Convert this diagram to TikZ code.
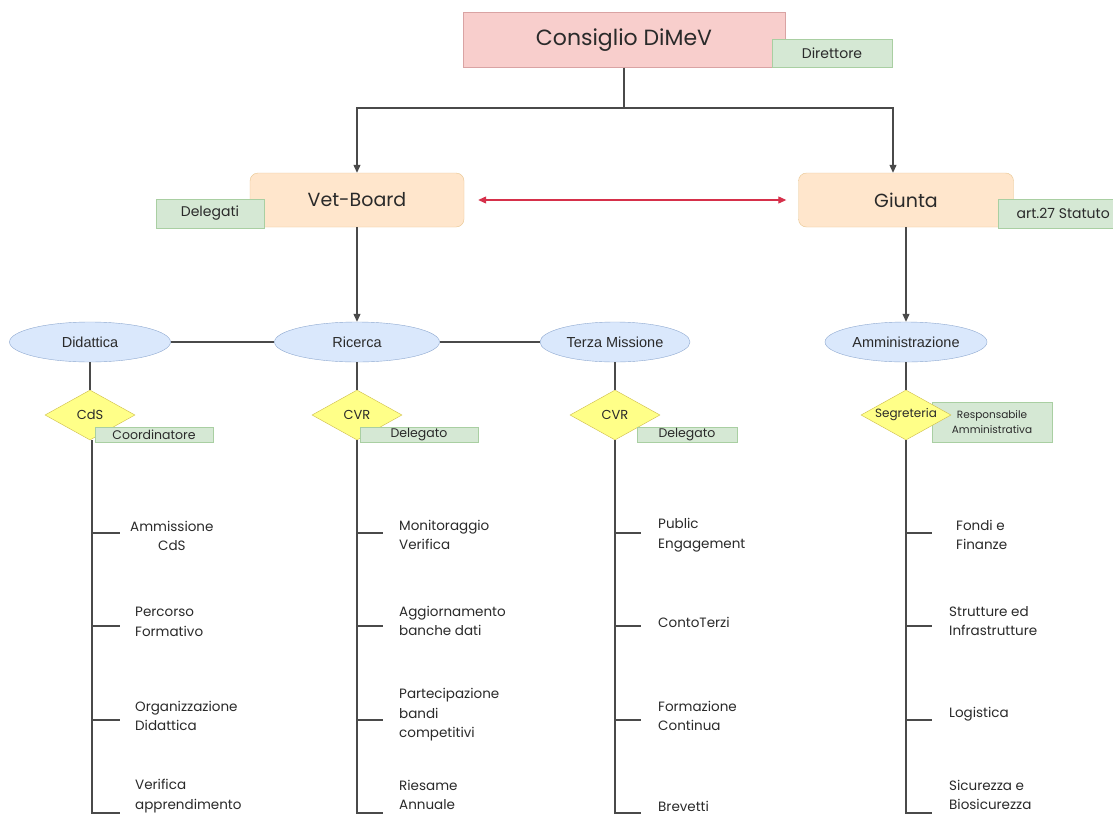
\documentclass[tikz,border=0pt]{standalone}
\usepackage{fontspec}
\setmainfont{Poppins}
\newfontfamily\arialfont{Liberation Sans}
\usetikzlibrary{shapes.geometric,arrows.meta}

\definecolor{pinkfill}{HTML}{F8CECC}
\definecolor{pinkline}{HTML}{D9A3A3}
\definecolor{greenfill}{HTML}{D5E8D4}
\definecolor{greenline}{HTML}{A9CFA2}
\definecolor{orangefill}{HTML}{FFE6CC}
\definecolor{orangeline}{HTML}{E8C690}
\definecolor{bluefill}{HTML}{DAE8FC}
\definecolor{blueline}{HTML}{8EA8D0}
\definecolor{yellowfill}{HTML}{FFFF88}
\definecolor{yellowline}{HTML}{CDBB4A}
\definecolor{linkred}{HTML}{D6304A}
\definecolor{linegray}{HTML}{4A4A4A}
\definecolor{textdark}{HTML}{2A2A2A}

\tikzset{
  organ/.style={draw=orangeline,fill=orangefill,rounded corners=8pt,minimum width=214pt,minimum height=54pt,text=textdark,font=\fontsize{19}{22}\selectfont},
  role/.style={draw=greenline,fill=greenfill,inner sep=0pt,text=textdark,font=\fontsize{12.5}{14}\selectfont},
  area/.style={ellipse,draw=blueline,fill=bluefill,minimum height=40pt,inner sep=0pt,text=textdark,font=\arialfont\fontsize{14.5}{16}\selectfont},
  office/.style={diamond,draw=yellowline,fill=yellowfill,minimum width=90pt,minimum height=50pt,inner sep=0pt,label={[text=textdark,font=\fontsize{13}{14}\selectfont]center:#1}},
  item/.style={anchor=west,align=left,inner sep=0pt,text=textdark,font=\fontsize{13.5}{19.5}\selectfont},
  link/.style={draw=linegray,line width=1.1pt},
  arrow/.style={link,-{Triangle[width=7pt,length=8pt]}}
}

\begin{document}
\begin{tikzpicture}[x=1pt,y=-1pt]
\useasboundingbox[fill=white] (0,0) rectangle (1113,814);
%top
\node[draw=pinkline,fill=pinkfill,minimum width=322pt,minimum height=55pt,text=textdark,font=\fontsize{22}{26}\selectfont] (consiglio) at (624,40) {Consiglio DiMeV};
\node[role,minimum width=120pt,minimum height=28pt,font=\fontsize{14}{16}\selectfont] (direttore) at (832,53) {Direttore};
%organs
\node[organ] (vetboard) at (357,200) {Vet-Board};
\node[role,minimum width=108pt,minimum height=29pt,font=\fontsize{14}{16}\selectfont] (delegati) at (210,213.5) {Delegati};
\node[organ,minimum width=215pt] (giunta) at (906,200) {Giunta};
\node[role,anchor=west,minimum width=130pt,minimum height=29pt,font=\fontsize{14}{16}\selectfont] (statuto) at (998,213.5) {art.27 Statuto};
\coordinate (split) at (624,108);
\draw[link] (consiglio) -- (split);
\draw[arrow] (split) -| (vetboard);
\draw[arrow] (split) -| ([xshift=-13]giunta.north);
\draw[linkred,line width=1.1pt,{Triangle[width=7pt,length=8pt]}-{Triangle[width=7pt,length=8pt]},shorten <=14pt,shorten >=12pt] (vetboard.east) -- (giunta.west);
%areas
\node[area,minimum width=161pt] (didattica) at (90,342) {Didattica};
\node[area,minimum width=165pt] (ricerca) at (357,342) {Ricerca};
\node[area,minimum width=150pt] (terza) at (615,342) {Terza Missione};
\node[area,minimum width=162pt] (amministrazione) at (906,342) {Amministrazione};
\draw[arrow] (vetboard) -- (ricerca);
\draw[arrow] (giunta) -- (amministrazione);
\draw[link] (didattica) -- (ricerca);
\draw[link] (ricerca) -- (terza);
%offices
\node[role,minimum width=120pt,minimum height=40pt,align=center,font=\fontsize{10.5}{15}\selectfont] (responsabile) at (992,422) {Responsabile\\Amministrativa};
\node[office=CdS] (cds) at (90,415) {};
\node[office=CVR] (cvrric) at (357,415) {};
\node[office=CVR] (cvrterza) at (615,415) {};
\node[office={\fontsize{12}{13}\selectfont Segreteria}] (segreteria) at (906,415) {};
\draw[link] (didattica) -- (cds);
\draw[link] (ricerca) -- (cvrric);
\draw[link] (terza) -- (cvrterza);
\draw[link] (amministrazione) -- (segreteria);
\node[role,minimum width=118pt,minimum height=15pt] (coordinatore) at (154,434.5) {Coordinatore};
\node[role,minimum width=118pt,minimum height=15pt] (delric) at (419,434.5) {Delegato};
\node[role,minimum width=100pt,minimum height=15pt] (delterza) at (687,434.5) {Delegato};
%trees
\coordinate (dend) at (92,814);
\coordinate (rend) at (357,814);
\coordinate (tend) at (615,814);
\coordinate (aend) at (906,814);
\draw[link] (cds.south -| dend) -- (dend);
\draw[link] (cvrric.south -| rend) -- (rend);
\draw[link] (cvrterza.south -| tend) -- (tend);
\draw[link] (segreteria.south -| aend) -- (aend);
\foreach \y in {533,626,720,813}{
  \draw[link] (92,\y) -- (120,\y);
  \draw[link] (357,\y) -- (383,\y);
  \draw[link] (615,\y) -- (641,\y);
  \draw[link] (906,\y) -- (932,\y);
}
\node[item,align=center] (ammissione) at (130,536) {Ammissione\\CdS};
\node[item] (percorso) at (135,622) {Percorso\\Formativo};
\node[item] (organizzazione) at (135,716) {Organizzazione\\Didattica};
\node[item] (verifica) at (135,796) {Verifica\\apprendimento};
\node[item] (monitoraggio) at (399,535) {Monitoraggio\\Verifica};
\node[item] (aggiornamento) at (399,621) {Aggiornamento\\banche dati};
\node[item] (partecipazione) at (399,715) {Partecipazione\\bandi\\competitivi};
\node[item] (riesame) at (399,795) {Riesame\\Annuale};
\node[item] (public) at (658,535) {Public\\Engagement};
\node[item] (contoterzi) at (658,622) {ContoTerzi};
\node[item] (formazione) at (658,716) {Formazione\\Continua};
\node[item] (brevetti) at (658,806) {Brevetti};
\node[item] (fondi) at (956,535) {Fondi e\\Finanze};
\node[item] (strutture) at (949,621) {Strutture ed\\Infrastrutture};
\node[item] (logistica) at (949,714) {Logistica};
\node[item] (sicurezza) at (949,795) {Sicurezza e\\Biosicurezza};
\end{tikzpicture}
\end{document}
